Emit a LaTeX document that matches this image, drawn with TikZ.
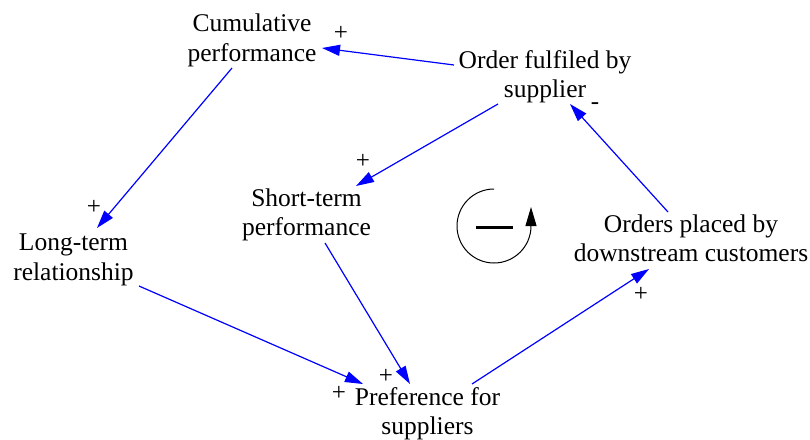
\documentclass[tikz,border=0pt]{standalone}
\usepackage{fontspec}
\setmainfont{Liberation Serif}
\usetikzlibrary{arrows.meta}
\begin{document}
\begin{tikzpicture}[x=1pt,y=1pt,
  concept/.style={font=\fontsize{25.5}{29.3}\selectfont, align=center, inner sep=0pt},
  sign/.style={font=\fontsize{25}{28}\selectfont, inner sep=0pt},
  link/.style={draw={rgb,255:red,0;green,0;blue,255}, line width=1.2pt,
    -{Triangle[length=18pt,width=11pt]}}]
\fill[white] (0,0) rectangle (810,-439);
\useasboundingbox (0,0) rectangle (810,-439);
% concepts
\node[concept] (cum)  at (252,-40.5) {Cumulative\\performance};
\node[concept] (ofs)  at (545,-77)   {Order fulfiled by\\supplier};
\node[concept] (st)   at (306.5,-215) {Short-term\\performance};
\node[concept] (lt)   at (73.5,-260) {Long-term\\relationship};
\node[concept] (opd)  at (691,-238)  {Orders placed by\\downstream customers};
\node[concept] (pref) at (427.5,-414) {Preference for\\suppliers};
% links
\draw[link] ([shift={(-91,12)}]ofs.center)  -- ([shift={(70,-7.5)}]cum.center);
\draw[link] ([shift={(-47,-27)}]ofs.center) -- ([shift={(49.5,29)}]st.center);
\draw[link] ([shift={(-20,-27.5)}]cum.center) -- ([shift={(23.5,32)}]lt.center);
\draw[link] ([shift={(65.5,-26)}]lt.center) -- ([shift={(-64.5,30)}]pref.center);
\draw[link] ([shift={(18.5,-28)}]st.center) -- ([shift={(-17.5,30)}]pref.center);
\draw[link] ([shift={(44.5,30)}]pref.center) -- ([shift={(-42,-31)}]opd.center);
\draw[link] ([shift={(-23,26)}]opd.center) -- ([shift={(25,-27)}]ofs.center);
% polarity signs
\node[sign] (s1) at (341,-33)  {+};
\node[sign] (s2) at (363,-161) {+};
\node[sign] (s3) at (94,-207)  {+};
\node[sign] (s4) at (339,-393) {+};
\node[sign] (s5) at (386,-376) {+};
\node[sign] (s6) at (641,-294) {+};
\node[sign] (s7) at (595,-106) {-};
% loop symbol
\draw[line width=1pt, -{Triangle[length=19pt,width=11pt]}]
  (494,-189) arc[start angle=90, end angle=360, radius=37] -- ++(0,19);
\draw[line width=3pt] (476,-227) -- (513,-227);
\end{tikzpicture}
\end{document}
